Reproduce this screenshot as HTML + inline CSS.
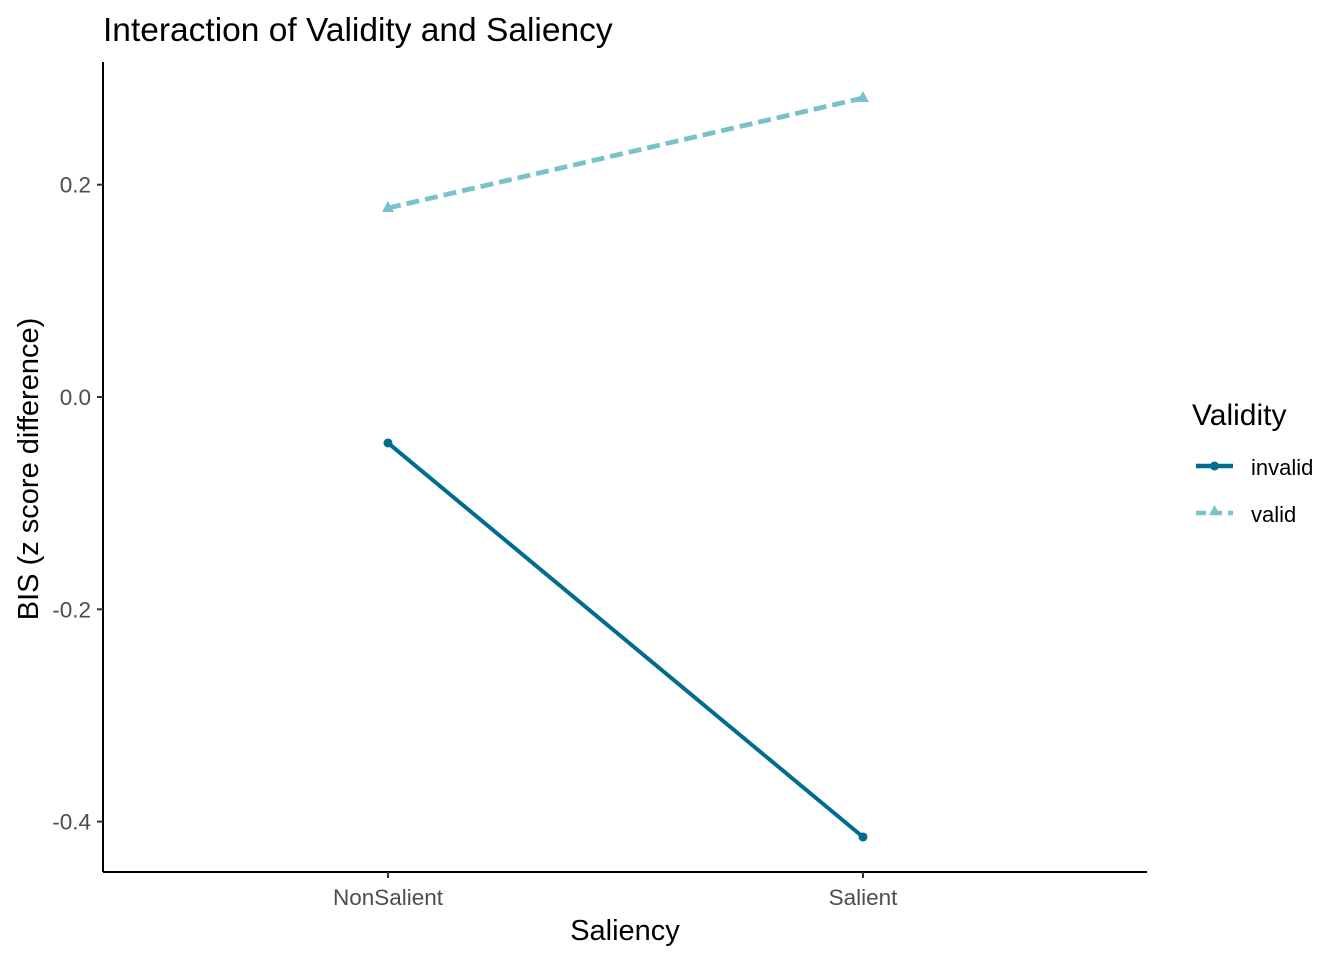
<!DOCTYPE html>
<html><head><meta charset="utf-8"><style>
html,body{margin:0;padding:0;background:#fff;}
svg{display:block;font-family:"Liberation Sans",Arial,sans-serif;}
</style></head><body>
<svg id="chart" width="1344" height="960" viewBox="0 0 1344 960">
<text x="103" y="41" font-size="33.5" fill="#000">Interaction of Validity and Saliency</text>
<g id="axes"></g>
<g id="series"></g>
<text x="625" y="940" font-size="29" text-anchor="middle" fill="#000">Saliency</text>
<text transform="translate(38,469) rotate(-90)" font-size="29" text-anchor="middle" fill="#000">BIS (z score difference)</text>
<g>
<text x="1192" y="425" font-size="30" fill="#000">Validity</text>
<g>
<line x1="1196" y1="466" x2="1233" y2="466" stroke="#006d8f" stroke-width="4.5"/>
<circle cx="1214.5" cy="466" r="4.5" fill="#006d8f"/>
<text x="1251" y="475" font-size="22" fill="#000">invalid</text>
</g>
<g>
<line x1="1196" y1="513" x2="1233" y2="513" stroke="#79c2cc" stroke-width="4.5" stroke-dasharray="10,6"/>
<polygon points="1214.5,505 1209,515 1220,515" fill="#79c2cc"/>
<text x="1251" y="522" font-size="22" fill="#000">valid</text>
</g>
</g>
</svg>
<script>
const categories = ["NonSalient", "Salient"];
const invalidValues = [-0.0433, -0.4145];
const validValues = [0.178, 0.2817];
const yTicks = [0.2, 0.0, -0.2, -0.4];
const yTickLabels = ["0.2", "0.0", "-0.2", "-0.4"];

const NS = "http://www.w3.org/2000/svg";
const plotL = 103, plotR = 1147, plotT = 62, plotB = 872;
function xScale(i){ return 388 + i * 475; }
function yScale(v){ return 397 - v * 1061.5; }
function mk(tag, attrs, parent){
  const e = document.createElementNS(NS, tag);
  for (const k in attrs) e.setAttribute(k, attrs[k]);
  parent.appendChild(e);
  return e;
}
const axes = document.getElementById("axes");
const series = document.getElementById("series");

const yAxis = mk("line", {x1:plotL, y1:plotT, x2:plotL, y2:plotB, stroke:"#000", "stroke-width":2}, axes);


const xAxis = mk("line", {x1:plotL, y1:plotB, x2:plotR, y2:plotB, stroke:"#000", "stroke-width":2}, axes);



yTicks.forEach((v, i) => {
  const y = yScale(v);
  const t = mk("line", {x1:plotL-6, y1:y, x2:plotL, y2:y, stroke:"#333", "stroke-width":2}, axes);
  
  
  const l = mk("text", {x:plotL-12, y:y+8, "font-size":22.5, "text-anchor":"end", fill:"#4d4d4d"}, axes);
  l.textContent = yTickLabels[i];
  
  
});
categories.forEach((c, i) => {
  const x = xScale(i);
  const t = mk("line", {x1:x, y1:plotB, x2:x, y2:plotB+6, stroke:"#333", "stroke-width":2}, axes);
  
  
  const l = mk("text", {x:x, y:905, "font-size":22.5, "text-anchor":"middle", fill:"#4d4d4d"}, axes);
  l.textContent = c;
  
  
});

function drawSeries(vals, color, dash, shape, name){
  const pts = vals.map((v, i) => xScale(i) + "," + yScale(v)).join(" ");
  const attrs = {points:pts, fill:"none", stroke:color, "stroke-width":dash ? 4.8 : 4};
  if (dash) attrs["stroke-dasharray"] = dash;
  const pl = mk("polyline", attrs, series);
  
  
  vals.forEach((v, i) => {
    const x = xScale(i), y = yScale(v);
    let m;
    if (shape === "circle") m = mk("circle", {cx:x, cy:y, r:4.5, fill:color}, series);
    else m = mk("polygon", {points:`${x},${y-7} ${x-6},${y+4} ${x+6},${y+4}`, fill:color}, series);
    
    
  });
}
drawSeries(validValues, "#79c2cc", "13,6", "triangle", "valid");
drawSeries(invalidValues, "#006d8f", null, "circle", "invalid");
</script>
</body></html>
